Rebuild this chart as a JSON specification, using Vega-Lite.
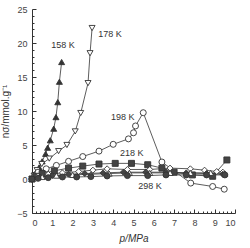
{
  "$schema": "https://vega.github.io/schema/vega-lite/v6.json",
  "autosize": "none",
  "width": 203,
  "height": 204,
  "padding": {"left": 32, "top": 9, "right": 15, "bottom": 35},
  "background": "white",
  "config": {
    "view": {"stroke": null},
    "axis": {"domainColor": "#333", "tickColor": "#333", "labelColor": "#444", "titleColor": "#333", "labelFont": "Liberation Sans", "titleFont": "Liberation Sans", "labelFontSize": 9, "titleFontSize": 10, "titleFontWeight": "normal", "grid": false, "domainWidth": 1, "labelOverlap": false}
  },
  "resolve": {"axis": {"x": "independent", "y": "independent"}},
  "datasets": {
    "pts": [
      {"s": "158 K", "x": 0, "y": 0}, {"s": "158 K", "x": 0.1, "y": 0.5}, {"s": "158 K", "x": 0.2, "y": 1.0}, {"s": "158 K", "x": 0.35, "y": 1.7}, {"s": "158 K", "x": 0.5, "y": 2.6}, {"s": "158 K", "x": 0.67, "y": 3.7}, {"s": "158 K", "x": 0.77, "y": 4.6}, {"s": "158 K", "x": 0.9, "y": 5.7}, {"s": "158 K", "x": 1.07, "y": 7.4}, {"s": "158 K", "x": 1.18, "y": 9.1}, {"s": "158 K", "x": 1.27, "y": 11.3}, {"s": "158 K", "x": 1.35, "y": 14.3}, {"s": "158 K", "x": 1.46, "y": 17.2},
      {"s": "178 K", "x": 0, "y": 0}, {"s": "178 K", "x": 0.1, "y": 0.5}, {"s": "178 K", "x": 0.25, "y": 1.3}, {"s": "178 K", "x": 0.48, "y": 2.2}, {"s": "178 K", "x": 0.85, "y": 3.0}, {"s": "178 K", "x": 1.31, "y": 4.1}, {"s": "178 K", "x": 1.72, "y": 5.0}, {"s": "178 K", "x": 2.13, "y": 7.0}, {"s": "178 K", "x": 2.4, "y": 9.7}, {"s": "178 K", "x": 2.76, "y": 14.1}, {"s": "178 K", "x": 2.86, "y": 18.5}, {"s": "178 K", "x": 2.96, "y": 22.2},
      {"s": "198 K", "x": 0, "y": 0}, {"s": "198 K", "x": 0.15, "y": 0.5}, {"s": "198 K", "x": 0.3, "y": 1.0}, {"s": "198 K", "x": 0.7, "y": 1.5}, {"s": "198 K", "x": 1.2, "y": 2.0}, {"s": "198 K", "x": 1.8, "y": 2.6}, {"s": "198 K", "x": 2.5, "y": 3.3}, {"s": "198 K", "x": 3.3, "y": 4.1}, {"s": "198 K", "x": 4.0, "y": 5.1}, {"s": "198 K", "x": 4.75, "y": 5.9}, {"s": "198 K", "x": 5.0, "y": 6.8}, {"s": "198 K", "x": 5.1, "y": 7.8}, {"s": "198 K", "x": 5.48, "y": 9.75}, {"s": "198 K", "x": 6.4, "y": 2.5}, {"s": "198 K", "x": 7.82, "y": -0.6}, {"s": "198 K", "x": 8.9, "y": -1.1}, {"s": "198 K", "x": 9.47, "y": -1.5},
      {"s": "218 K", "x": 0, "y": 0}, {"s": "218 K", "x": 0.2, "y": 0.4}, {"s": "218 K", "x": 0.5, "y": 0.8}, {"s": "218 K", "x": 1.1, "y": 1.2}, {"s": "218 K", "x": 1.8, "y": 1.6}, {"s": "218 K", "x": 2.5, "y": 1.9}, {"s": "218 K", "x": 3.3, "y": 2.2}, {"s": "218 K", "x": 4.1, "y": 2.3}, {"s": "218 K", "x": 4.9, "y": 2.3}, {"s": "218 K", "x": 5.7, "y": 2.1}, {"s": "218 K", "x": 6.4, "y": 1.6}, {"s": "218 K", "x": 7.0, "y": 1.0}, {"s": "218 K", "x": 7.9, "y": 0.6}, {"s": "218 K", "x": 8.9, "y": 0.4}, {"s": "218 K", "x": 9.6, "y": 2.8},
      {"s": "238 K", "x": 0, "y": 0}, {"s": "238 K", "x": 0.3, "y": 0.4}, {"s": "238 K", "x": 0.8, "y": 0.7}, {"s": "238 K", "x": 1.5, "y": 0.9}, {"s": "238 K", "x": 2.3, "y": 1.1}, {"s": "238 K", "x": 3.0, "y": 1.3}, {"s": "238 K", "x": 3.7, "y": 1.5}, {"s": "238 K", "x": 4.7, "y": 1.4}, {"s": "238 K", "x": 5.8, "y": 1.4}, {"s": "238 K", "x": 6.8, "y": 1.6}, {"s": "238 K", "x": 7.8, "y": 1.5}, {"s": "238 K", "x": 8.5, "y": 1.3}, {"s": "238 K", "x": 9.1, "y": 1.1}, {"s": "238 K", "x": 9.4, "y": 1.0},
      {"s": "258 K", "x": 0, "y": 0}, {"s": "258 K", "x": 0.4, "y": 0.3}, {"s": "258 K", "x": 1.0, "y": 0.5}, {"s": "258 K", "x": 1.8, "y": 0.7}, {"s": "258 K", "x": 2.6, "y": 0.8}, {"s": "258 K", "x": 3.5, "y": 0.9}, {"s": "258 K", "x": 4.5, "y": 1.0}, {"s": "258 K", "x": 5.6, "y": 1.0}, {"s": "258 K", "x": 6.6, "y": 1.0}, {"s": "258 K", "x": 7.6, "y": 0.9}, {"s": "258 K", "x": 8.6, "y": 0.8}, {"s": "258 K", "x": 9.4, "y": 0.7},
      {"s": "278 K", "x": 0, "y": 0}, {"s": "278 K", "x": 0.5, "y": 0.3}, {"s": "278 K", "x": 1.2, "y": 0.5}, {"s": "278 K", "x": 2.0, "y": 0.6}, {"s": "278 K", "x": 2.9, "y": 0.7}, {"s": "278 K", "x": 3.8, "y": 0.8}, {"s": "278 K", "x": 4.8, "y": 0.9}, {"s": "278 K", "x": 5.8, "y": 0.9}, {"s": "278 K", "x": 6.8, "y": 0.9}, {"s": "278 K", "x": 7.8, "y": 0.9}, {"s": "278 K", "x": 8.8, "y": 0.9}, {"s": "278 K", "x": 9.5, "y": 0.8},
      {"s": "298 K", "x": 0, "y": 0}, {"s": "298 K", "x": 0.3, "y": 0.1}, {"s": "298 K", "x": 0.8, "y": 0.2}, {"s": "298 K", "x": 1.5, "y": 0.3}, {"s": "298 K", "x": 2.2, "y": 0.3}, {"s": "298 K", "x": 2.9, "y": 0.35}, {"s": "298 K", "x": 3.7, "y": 0.45}, {"s": "298 K", "x": 4.7, "y": 0.5}, {"s": "298 K", "x": 5.7, "y": 0.5}, {"s": "298 K", "x": 6.6, "y": 0.6}, {"s": "298 K", "x": 7.6, "y": 0.6}, {"s": "298 K", "x": 8.6, "y": 0.6}, {"s": "298 K", "x": 9.5, "y": 0.6}
    ],
    "labels": [
      {"t": "158 K", "x": 1.53, "y": 19.7},
      {"t": "178 K", "x": 3.84, "y": 21.3},
      {"t": "198 K", "x": 4.47, "y": 9.1},
      {"t": "218 K", "x": 4.91, "y": 3.8},
      {"t": "298 K", "x": 5.81, "y": -1.07}
    ]
  },
  "layer": [
    {
      "data": {"name": "pts"},
      "mark": {"type": "line", "color": "#333", "strokeWidth": 0.8},
      "encoding": {
        "x": {"field": "x", "type": "quantitative", "scale": {"domain": [0, 10], "nice": false},
          "axis": {"orient": "bottom", "values": [0,1,2,3,4,5,6,7,8,9,10], "tickSize": -4, "labelPadding": 9, "title": "p/MPa", "titleFontStyle": "italic", "titlePadding": 6}},
        "y": {"field": "y", "type": "quantitative", "scale": {"domain": [-5, 25], "nice": false},
          "axis": {"orient": "left", "values": [-5, 0, 5, 10, 15, 20, 25], "tickSize": -4, "labelPadding": 9, "title": "nσ/mmol.g⁻¹", "titlePadding": 6}},
        "detail": {"field": "s"}
      }
    },
    {
      "data": {"name": "pts"},
      "mark": {"type": "point", "size": 36, "stroke": "#333", "strokeWidth": 0.9, "opacity": 1},
      "encoding": {
        "x": {"field": "x", "type": "quantitative",
          "axis": {"orient": "bottom", "values": [0.2,0.4,0.6,0.8,1.2,1.4,1.6,1.8,2.2,2.4,2.6,2.8,3.2,3.4,3.6,3.8,4.2,4.4,4.6,4.8,5.2,5.4,5.6,5.8,6.2,6.4,6.6,6.8,7.2,7.4,7.6,7.8,8.2,8.4,8.6,8.8,9.2,9.4,9.6,9.8], "tickSize": -2, "labels": false, "domain": false, "title": null}},
        "y": {"field": "y", "type": "quantitative",
          "axis": {"orient": "left", "values": [-4,-3,-2,-1,1,2,3,4,6,7,8,9,11,12,13,14,16,17,18,19,21,22,23,24], "tickSize": -2, "labels": false, "domain": false, "title": null}},
        "shape": {"field": "s", "type": "nominal", "legend": null,
          "scale": {"domain": ["158 K","178 K","198 K","218 K","238 K","258 K","278 K","298 K"],
                    "range": ["triangle-up","triangle-down","circle","square","diamond","diamond","triangle-up","circle"]}},
        "fill": {"field": "s", "type": "nominal", "legend": null,
          "scale": {"domain": ["158 K","178 K","198 K","218 K","238 K","258 K","278 K","298 K"],
                    "range": ["#333","white","white","#444","white","#444","white","#444"]}}
      }
    },
    {
      "data": {"name": "labels"},
      "mark": {"type": "text", "font": "Liberation Sans", "fontSize": 9, "color": "#333"},
      "encoding": {
        "x": {"field": "x", "type": "quantitative", "axis": null},
        "y": {"field": "y", "type": "quantitative", "axis": null},
        "text": {"field": "t"}
      }
    }
  ]
}
